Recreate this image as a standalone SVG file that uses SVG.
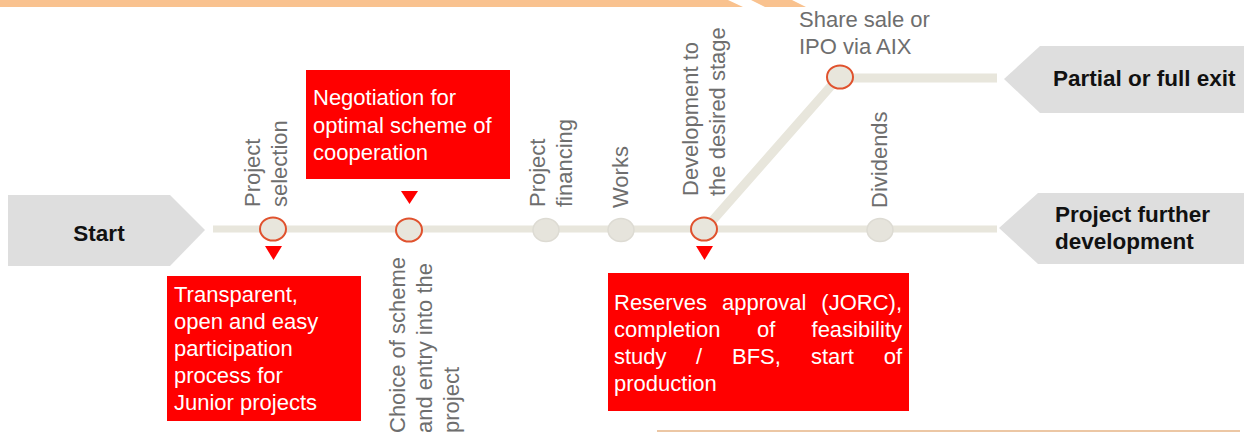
<svg xmlns="http://www.w3.org/2000/svg" width="1244" height="434" viewBox="0 0 1244 434">
<style>
.arrow{fill:#dedede}
.big{font-family:"Liberation Sans",Arial,sans-serif;font-weight:bold;font-size:22.5px;fill:#111}
.lbl{font-family:"Liberation Sans",Arial,sans-serif;font-size:22px;fill:#6e6e6e}
.box{fill:#ff0000}
.bt{font-family:"Liberation Sans",Arial,sans-serif;font-size:22px;fill:#ffffff}
.tri{fill:#ff0000}
.hot{fill:#e8e6dc;stroke:#e0522e;stroke-width:2}
.cold{fill:#e6e4dc;stroke:#dddbd3;stroke-width:1.5}
.track{fill:none;stroke:#e8e6dc;stroke-linejoin:round}
</style>
<rect width="1244" height="434" fill="#ffffff"/>
<!-- top banner -->
<polygon points="0,0 728,0 743,7 0,7" fill="#f9c28f"/>
<polygon points="751,0 792,0 806,7 765,7" fill="#f9c28f"/>
<line x1="657" y1="431" x2="1240" y2="431" stroke="#ecc7a4" stroke-width="2"/>

<g id="connectors">
<line class="track" x1="213" y1="229" x2="997" y2="229" stroke-width="7"/>
<polyline class="track" points="706,228 838,78 997,78" stroke-width="9"/>
</g>

<g id="start">
<polygon class="arrow" points="8,195 170,195 205,230 170,266 8,266"/>
<text class="big" x="99" y="241" text-anchor="middle" font-size="25.5">Start</text>
</g>
<g id="exit">
<polygon class="arrow" points="1244,46 1040,46 1004,79 1040,113 1244,113"/>
<text class="big" x="1053" y="86">Partial or full exit</text>
</g>
<g id="further">
<polygon class="arrow" points="1244,193 1038,193 999,228 1038,264 1244,264"/>
<text class="big" x="1055" y="222">Project further</text>
<text class="big" x="1055" y="249">development</text>
</g>

<g id="n-selection">
<ellipse class="hot" cx="273" cy="229" rx="13" ry="11.5"/>
<text class="lbl" transform="translate(260,207) rotate(-90)">Project</text>
<text class="lbl" transform="translate(287,207) rotate(-90)">selection</text>
<polygon class="tri" points="265,246 282,246 273.5,260"/>
</g>
<g id="n-choice">
<ellipse class="hot" cx="409" cy="230" rx="13" ry="11.5"/>
<text class="lbl" transform="translate(405,433) rotate(-90)">Choice of scheme</text>
<text class="lbl" transform="translate(432,433) rotate(-90)">and entry into the</text>
<text class="lbl" transform="translate(459,433) rotate(-90)">project</text>
<polygon class="tri" points="401,191 418,191 409.5,204"/>
</g>
<g id="n-financing">
<ellipse class="cold" cx="546" cy="230" rx="13" ry="11.5"/>
<text class="lbl" transform="translate(545,207) rotate(-90)">Project</text>
<text class="lbl" transform="translate(572,207) rotate(-90)">financing</text>
</g>
<g id="n-works">
<ellipse class="cold" cx="621" cy="230" rx="13" ry="11.5"/>
<text class="lbl" transform="translate(628,208) rotate(-90)">Works</text>
</g>
<g id="n-development">
<ellipse class="hot" cx="704" cy="229" rx="13" ry="11.5"/>
<text class="lbl" transform="translate(698,196) rotate(-90)">Development to</text>
<text class="lbl" transform="translate(725,196) rotate(-90)">the desired stage</text>
<polygon class="tri" points="696,246 713,246 704.5,260"/>
</g>
<g id="n-dividends">
<ellipse class="cold" cx="880" cy="230" rx="13" ry="11.5"/>
<text class="lbl" transform="translate(887,208) rotate(-90)">Dividends</text>
</g>
<g id="n-share">
<ellipse class="hot" cx="840" cy="77" rx="13" ry="11.5"/>
<text class="lbl" x="799" y="27">Share sale or</text>
<text class="lbl" x="799" y="54">IPO via AIX</text>
</g>

<g id="b-negotiation">
<rect class="box" x="306" y="70" width="204" height="109"/>
<text class="bt" x="313" y="105">Negotiation for</text>
<text class="bt" x="313" y="133">optimal scheme of</text>
<text class="bt" x="313" y="160">cooperation</text>
</g>
<g id="b-transparent">
<rect class="box" x="167" y="276" width="194" height="145"/>
<text class="bt" x="174" y="302">Transparent,</text>
<text class="bt" x="174" y="329">open and easy</text>
<text class="bt" x="174" y="356">participation</text>
<text class="bt" x="174" y="383">process for</text>
<text class="bt" x="174" y="410">Junior projects</text>
</g>
<g id="b-reserves">
<rect class="box" x="608" y="273" width="301" height="138"/>
<text class="bt" x="614" y="310">Reserves</text>
<text class="bt" x="722" y="310">approval</text>
<text class="bt" x="902" y="310" text-anchor="end">(JORC),</text>
<text class="bt" x="614" y="337">completion</text>
<text class="bt" x="757" y="337">of</text>
<text class="bt" x="902" y="337" text-anchor="end">feasibility</text>
<text class="bt" x="614" y="364">study</text>
<text class="bt" x="696" y="364">/</text>
<text class="bt" x="732" y="364">BFS,</text>
<text class="bt" x="811" y="364">start</text>
<text class="bt" x="902" y="364" text-anchor="end">of</text>
<text class="bt" x="614" y="391">production</text>
</g>
</svg>
